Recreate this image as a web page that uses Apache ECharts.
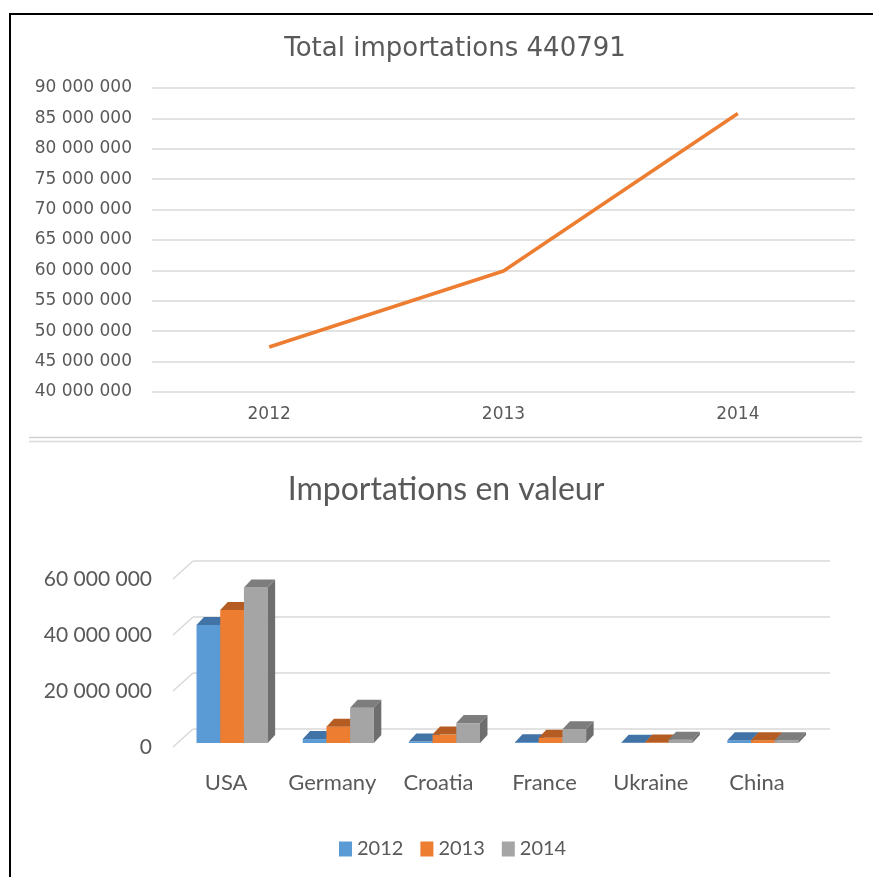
<!DOCTYPE html>
<html>
<head>
<meta charset="utf-8">
<script src="https://cdn.jsdelivr.net/npm/echarts@6/dist/echarts.min.js"></script>
<style>
  html, body { margin: 0; padding: 0; background: #fff; }
  #chart { width: 873px; height: 877px; }
</style>
</head>
<body>
<div id="chart"></div>
<script>
// top chart: total importations per year
var years = ["2012", "2013", "2014"];
var totals = [47400000, 59900000, 85800000];
var totalTicks = { min: 40000000, max: 90000000, step: 5000000 };

// bottom chart: importations by country and year
var countries = ["USA", "Germany", "Croatia", "France", "Ukraine", "China"];
var v2012 = [42100000, 1400000, 500000, 300000, 100000, 1000000];
var v2013 = [47500000, 5800000, 3000000, 1900000, 200000, 1000000];
var v2014 = [55500000, 12600000, 7100000, 4900000, 1200000, 1000000];
var valueTicks = [0, 20000000, 40000000, 60000000];

var TEXT = "#595959";
var GRID = "#d9d9d9";
var TOP_FONT = "DejaVu Sans";
var BOT_FONT = "Lato";

// depth of the fake 3d bars and of the back wall
var DX = 7.5, DY = -8;
var WALL_DX = 20, WALL_DY = -18;

function spaced(v) {
  return String(v).replace(/\B(?=(\d{3})+(?!\d))/g, " ");
}

function bar3d(idx, face, top, side) {
  return function (params, api) {
    var cat = api.value(0);
    var base = api.coord([cat, 0]);
    var head = api.coord([cat, api.value(1)]);
    var band = api.size([1, 0])[0];
    var group = band * 0.67;
    var bw = group / 3;
    var x0 = base[0] - group / 2 + 6 + idx * bw;
    var x1 = x0 + bw;
    var yb = base[1] - 4;
    var yt = head[1] - 4;
    return {
      type: "group",
      children: [
        { type: "rect", shape: { x: x0, y: yt, width: bw, height: yb - yt }, style: { fill: face } },
        { type: "polygon", shape: { points: [[x0, yt], [x1, yt], [x1 + DX, yt + DY], [x0 + DX, yt + DY]] }, style: { fill: top } },
        { type: "polygon", shape: { points: [[x1, yt], [x1 + DX, yt + DY], [x1 + DX, yb + DY], [x1, yb]] }, style: { fill: side } }
      ]
    };
  };
}

function pairs(arr) {
  return arr.map(function (v, i) { return [i, v]; });
}

var chart = echarts.init(document.getElementById("chart"));
chart.setOption({
  backgroundColor: "#fff",
  animation: false,
  title: [
    {
      text: "Total importations 440791",
      left: 450, top: 31, textAlign: "center",
      textStyle: { fontFamily: TOP_FONT, fontSize: 26, fontWeight: "normal", color: TEXT }
    },
    {
      text: "Importations en valeur",
      left: 441, top: 469, textAlign: "center",
      textStyle: { fontFamily: BOT_FONT, fontSize: 32, fontWeight: "normal", color: TEXT }
    }
  ],
  legend: {
    data: ["2012", "2013", "2014"],
    left: 334, top: 834,
    icon: "rect", itemWidth: 13, itemHeight: 15, itemGap: 17,
    textStyle: { fontFamily: BOT_FONT, fontSize: 20, color: TEXT }
  },
  grid: [
    { left: 152, right: 18, top: 88, bottom: 485 },
    { left: 173, right: 63, top: 579, bottom: 130 },
    { left: 173 + WALL_DX, right: 63 - WALL_DX, top: 579 + WALL_DY, bottom: 130 - WALL_DY }
  ],
  xAxis: [
    {
      gridIndex: 0, type: "category", data: years,
      axisLine: { show: false }, axisTick: { show: false },
      axisLabel: { margin: 14, fontFamily: TOP_FONT, fontSize: 17, color: TEXT }
    },
    {
      gridIndex: 1, type: "category", data: countries,
      axisLine: { show: false }, axisTick: { show: false },
      axisLabel: { interval: 0, margin: 25, fontFamily: BOT_FONT, fontSize: 22, color: TEXT }
    },
    { gridIndex: 2, type: "category", data: countries, show: false }
  ],
  yAxis: [
    {
      gridIndex: 0, type: "value",
      min: totalTicks.min, max: totalTicks.max, interval: totalTicks.step,
      axisLine: { show: false }, axisTick: { show: false },
      axisLabel: { margin: 20, fontFamily: TOP_FONT, fontSize: 17, color: TEXT, formatter: spaced },
      splitLine: { lineStyle: { color: GRID, width: 1.5 } }
    },
    {
      gridIndex: 1, type: "value", min: 0, max: 60000000, interval: 20000000,
      axisLine: { show: false }, axisTick: { show: false },
      axisLabel: { margin: 21, fontFamily: BOT_FONT, fontSize: 21, color: TEXT, formatter: spaced },
      splitLine: { show: false }
    },
    {
      gridIndex: 2, type: "value", min: 0, max: 60000000, interval: 20000000,
      axisLine: { show: false }, axisTick: { show: false }, axisLabel: { show: false },
      splitLine: { lineStyle: { color: GRID, width: 1.5 } }
    }
  ],
  series: [
    {
      type: "line", xAxisIndex: 0, yAxisIndex: 0, data: totals,
      showSymbol: false, symbol: "none",
      lineStyle: { color: "#ed7d31", width: 3.5 }
    },
    {
      // floor connectors from the front plane to the back wall
      type: "custom", xAxisIndex: 1, yAxisIndex: 1, silent: true,
      data: valueTicks.map(function (t) { return [0, t]; }),
      renderItem: function (params, api) {
        var p = api.coord([0, api.value(1)]);
        var x = p[0] - api.size([1, 0])[0] / 2;
        return {
          type: "line",
          shape: { x1: x, y1: p[1], x2: x + WALL_DX, y2: p[1] + WALL_DY },
          style: { stroke: GRID, lineWidth: 1.5 }
        };
      }
    },
    {
      name: "2012", type: "custom", xAxisIndex: 1, yAxisIndex: 1,
      data: pairs(v2012), itemStyle: { color: "#5b9bd5" },
      renderItem: bar3d(0, "#5b9bd5", "#4173a6", "#3d6b99")
    },
    {
      name: "2013", type: "custom", xAxisIndex: 1, yAxisIndex: 1,
      data: pairs(v2013), itemStyle: { color: "#ed7d31" },
      renderItem: bar3d(1, "#ed7d31", "#b45c22", "#a5541e")
    },
    {
      name: "2014", type: "custom", xAxisIndex: 1, yAxisIndex: 1,
      data: pairs(v2014), itemStyle: { color: "#a5a5a5" },
      renderItem: bar3d(2, "#a5a5a5", "#7d7d7d", "#6e6e6e")
    }
  ],
  graphic: [
    { type: "line", shape: { x1: 10, y1: 14, x2: 873, y2: 14 }, style: { stroke: "#000", lineWidth: 2 } },
    { type: "line", shape: { x1: 10, y1: 13, x2: 10, y2: 877 }, style: { stroke: "#000", lineWidth: 2 } },
    { type: "line", shape: { x1: 29, y1: 437.5, x2: 862, y2: 437.5 }, style: { stroke: "#d0d0d0", lineWidth: 1.5 } },
    { type: "line", shape: { x1: 29, y1: 441.5, x2: 862, y2: 441.5 }, style: { stroke: "#dadada", lineWidth: 1.5 } }
  ]
});
</script>
</body>
</html>
